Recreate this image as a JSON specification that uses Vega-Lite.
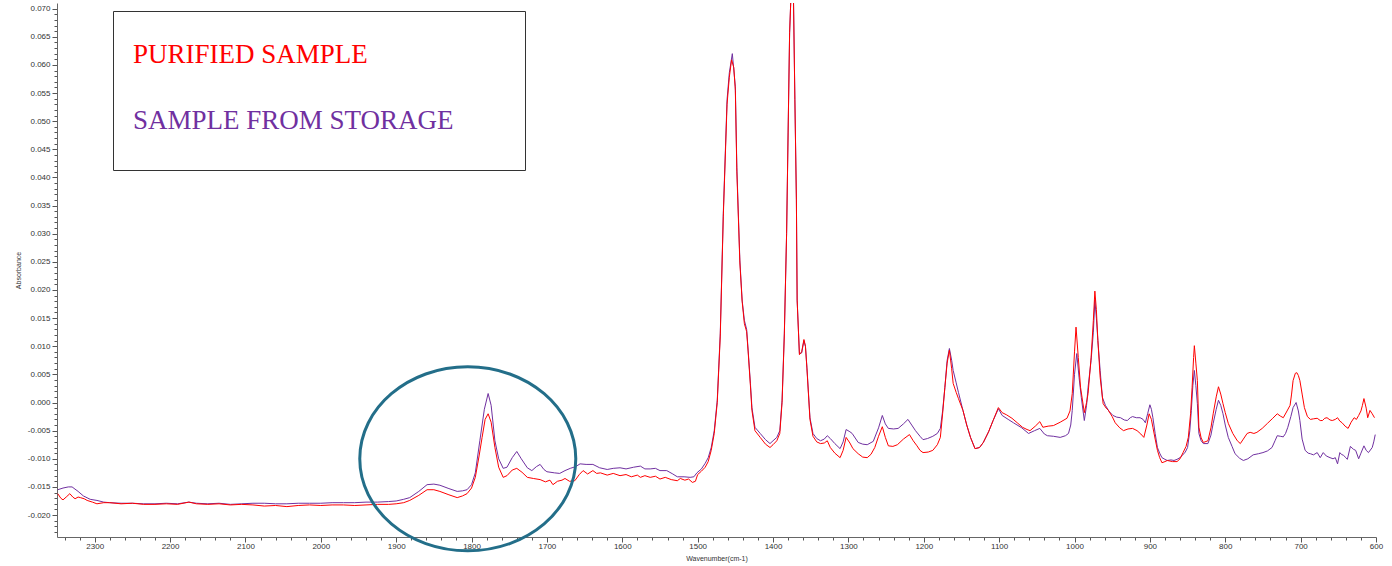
{
  "$schema": "https://vega.github.io/schema/vega-lite/v6.json",
  "width": 1319,
  "height": 534,
  "autosize": {"type": "none"},
  "padding": {"left": 57, "top": 3, "right": 16, "bottom": 29},
  "background": "white",
  "config": {"view": {"stroke": null}, "font": "Liberation Sans"},
  "datasets": {
    "storage": [
      {"wavenumber":2349,"absorbance":-0.0155},{"wavenumber":2342,"absorbance":-0.0152},{"wavenumber":2335,"absorbance":-0.0150},{"wavenumber":2330,"absorbance":-0.0150},{"wavenumber":2322,"absorbance":-0.0158},{"wavenumber":2315,"absorbance":-0.0166},{"wavenumber":2306,"absorbance":-0.0172},{"wavenumber":2297,"absorbance":-0.0174},{"wavenumber":2288,"absorbance":-0.0177},{"wavenumber":2280,"absorbance":-0.0178},
      {"wavenumber":2265,"absorbance":-0.0179},{"wavenumber":2250,"absorbance":-0.0179},{"wavenumber":2235,"absorbance":-0.0180},{"wavenumber":2220,"absorbance":-0.0180},{"wavenumber":2205,"absorbance":-0.0179},{"wavenumber":2190,"absorbance":-0.0180},{"wavenumber":2175,"absorbance":-0.0177},{"wavenumber":2165,"absorbance":-0.0179},{"wavenumber":2150,"absorbance":-0.0180},{"wavenumber":2135,"absorbance":-0.0179},{"wavenumber":2120,"absorbance":-0.0181},{"wavenumber":2105,"absorbance":-0.0180},{"wavenumber":2090,"absorbance":-0.0179},{"wavenumber":2075,"absorbance":-0.0179},{"wavenumber":2060,"absorbance":-0.0180},{"wavenumber":2045,"absorbance":-0.0180},{"wavenumber":2030,"absorbance":-0.0179},{"wavenumber":2015,"absorbance":-0.0179},{"wavenumber":2000,"absorbance":-0.0179},{"wavenumber":1985,"absorbance":-0.0178},{"wavenumber":1970,"absorbance":-0.0178},{"wavenumber":1955,"absorbance":-0.0178},{"wavenumber":1940,"absorbance":-0.0177},{"wavenumber":1925,"absorbance":-0.0177},{"wavenumber":1910,"absorbance":-0.0176},
      {"wavenumber":1900,"absorbance":-0.0175},{"wavenumber":1890,"absorbance":-0.0172},{"wavenumber":1882,"absorbance":-0.0169},{"wavenumber":1870,"absorbance":-0.0158},{"wavenumber":1859,"absorbance":-0.0146},{"wavenumber":1850,"absorbance":-0.0145},{"wavenumber":1842,"absorbance":-0.0147},{"wavenumber":1830,"absorbance":-0.0153},{"wavenumber":1819,"absorbance":-0.0158},{"wavenumber":1812,"absorbance":-0.0157},{"wavenumber":1806,"absorbance":-0.0155},{"wavenumber":1800,"absorbance":-0.0146},{"wavenumber":1795,"absorbance":-0.0125},{"wavenumber":1789,"absorbance":-0.0068},{"wavenumber":1783,"absorbance":-0.0012},{"wavenumber":1778,"absorbance":0.0016},{"wavenumber":1774,"absorbance":-0.0005},{"wavenumber":1769,"absorbance":-0.0068},{"wavenumber":1764,"absorbance":-0.0100},{"wavenumber":1758,"absorbance":-0.0117},{"wavenumber":1753,"absorbance":-0.0115},{"wavenumber":1746,"absorbance":-0.0098},{"wavenumber":1740,"absorbance":-0.0087},{"wavenumber":1734,"absorbance":-0.0100},{"wavenumber":1726,"absorbance":-0.0116},{"wavenumber":1720,"absorbance":-0.0121},{"wavenumber":1714,"absorbance":-0.0114},{"wavenumber":1709,"absorbance":-0.0110},{"wavenumber":1704,"absorbance":-0.0119},{"wavenumber":1700,"absorbance":-0.0123},{"wavenumber":1690,"absorbance":-0.0125},{"wavenumber":1683,"absorbance":-0.0126},{"wavenumber":1676,"absorbance":-0.0121},{"wavenumber":1669,"absorbance":-0.0117},{"wavenumber":1662,"absorbance":-0.0114},{"wavenumber":1656,"absorbance":-0.0109},{"wavenumber":1648,"absorbance":-0.0110},{"wavenumber":1639,"absorbance":-0.0110},{"wavenumber":1630,"absorbance":-0.0116},{"wavenumber":1620,"absorbance":-0.0119},{"wavenumber":1612,"absorbance":-0.0117},{"wavenumber":1603,"absorbance":-0.0116},{"wavenumber":1595,"absorbance":-0.0118},{"wavenumber":1585,"absorbance":-0.0115},{"wavenumber":1576,"absorbance":-0.0113},{"wavenumber":1570,"absorbance":-0.0118},{"wavenumber":1563,"absorbance":-0.0118},{"wavenumber":1556,"absorbance":-0.0117},{"wavenumber":1550,"absorbance":-0.0121},{"wavenumber":1541,"absorbance":-0.0121},{"wavenumber":1533,"absorbance":-0.0127},{"wavenumber":1527,"absorbance":-0.0132},{"wavenumber":1518,"absorbance":-0.0132},{"wavenumber":1510,"absorbance":-0.0133},{"wavenumber":1505,"absorbance":-0.0132},{"wavenumber":1501,"absorbance":-0.0125},{"wavenumber":1495,"absorbance":-0.0118},{"wavenumber":1490,"absorbance":-0.0108},{"wavenumber":1486,"absorbance":-0.0098},{"wavenumber":1482,"absorbance":-0.0080},{"wavenumber":1478,"absorbance":-0.0050},{"wavenumber":1474,"absorbance":0.0004},{"wavenumber":1470,"absorbance":0.0123},{"wavenumber":1466,"absorbance":0.0336},{"wavenumber":1461,"absorbance":0.0538},{"wavenumber":1458,"absorbance":0.0586},{"wavenumber":1454,"absorbance":0.0620},{"wavenumber":1450,"absorbance":0.0561},{"wavenumber":1448,"absorbance":0.0418},{"wavenumber":1444,"absorbance":0.0253},{"wavenumber":1441,"absorbance":0.0182},{"wavenumber":1438,"absorbance":0.0146},{"wavenumber":1435,"absorbance":0.0130},{"wavenumber":1433,"absorbance":0.0093},{"wavenumber":1430,"absorbance":0.0034},{"wavenumber":1428,"absorbance":-0.0009},{"wavenumber":1424,"absorbance":-0.0044},{"wavenumber":1417,"absorbance":-0.0055},{"wavenumber":1410,"absorbance":-0.0066},{"wavenumber":1404,"absorbance":-0.0073},{"wavenumber":1400,"absorbance":-0.0068},{"wavenumber":1395,"absorbance":-0.0062},{"wavenumber":1391,"absorbance":-0.0050},{"wavenumber":1388,"absorbance":0.0004},{"wavenumber":1385,"absorbance":0.0123},{"wavenumber":1382,"absorbance":0.0300},{"wavenumber":1380,"absorbance":0.0479},{"wavenumber":1378,"absorbance":0.0657},{"wavenumber":1376,"absorbance":0.0730},{"wavenumber":1373,"absorbance":0.0730},{"wavenumber":1371,"absorbance":0.0538},{"wavenumber":1369,"absorbance":0.0360},{"wavenumber":1368,"absorbance":0.0182},{"wavenumber":1365,"absorbance":0.0087},{"wavenumber":1362,"absorbance":0.0088},{"wavenumber":1359,"absorbance":0.0110},{"wavenumber":1357,"absorbance":0.0100},{"wavenumber":1355,"absorbance":0.0062},{"wavenumber":1351,"absorbance":-0.0027},{"wavenumber":1347,"absorbance":-0.0055},{"wavenumber":1342,"absorbance":-0.0064},{"wavenumber":1337,"absorbance":-0.0068},{"wavenumber":1332,"absorbance":-0.0065},{"wavenumber":1328,"absorbance":-0.0059},{"wavenumber":1324,"absorbance":-0.0064},{"wavenumber":1318,"absorbance":-0.0073},{"wavenumber":1311,"absorbance":-0.0082},{"wavenumber":1307,"absorbance":-0.0070},{"wavenumber":1303,"absorbance":-0.0048},{"wavenumber":1298,"absorbance":-0.0052},{"wavenumber":1295,"absorbance":-0.0055},{"wavenumber":1287,"absorbance":-0.0071},{"wavenumber":1281,"absorbance":-0.0074},{"wavenumber":1275,"absorbance":-0.0075},{"wavenumber":1267,"absorbance":-0.0069},{"wavenumber":1260,"absorbance":-0.0045},{"wavenumber":1255,"absorbance":-0.0023},{"wavenumber":1251,"absorbance":-0.0038},{"wavenumber":1247,"absorbance":-0.0046},{"wavenumber":1240,"absorbance":-0.0047},{"wavenumber":1234,"absorbance":-0.0046},{"wavenumber":1227,"absorbance":-0.0038},{"wavenumber":1221,"absorbance":-0.0030},{"wavenumber":1216,"absorbance":-0.0040},{"wavenumber":1211,"absorbance":-0.0050},{"wavenumber":1205,"absorbance":-0.0060},{"wavenumber":1201,"absorbance":-0.0066},{"wavenumber":1195,"absorbance":-0.0064},{"wavenumber":1188,"absorbance":-0.0060},{"wavenumber":1182,"absorbance":-0.0055},{"wavenumber":1178,"absorbance":-0.0046},{"wavenumber":1175,"absorbance":-0.0015},{"wavenumber":1172,"absorbance":0.0027},{"wavenumber":1169,"absorbance":0.0075},{"wavenumber":1166,"absorbance":0.0096},{"wavenumber":1163,"absorbance":0.0075},{"wavenumber":1161,"absorbance":0.0057},{"wavenumber":1157,"absorbance":0.0035},{"wavenumber":1154,"absorbance":0.0018},{"wavenumber":1148,"absorbance":-0.0014},{"wavenumber":1143,"absorbance":-0.0040},{"wavenumber":1138,"absorbance":-0.0062},{"wavenumber":1132,"absorbance":-0.0082},{"wavenumber":1126,"absorbance":-0.0080},{"wavenumber":1121,"absorbance":-0.0071},{"wavenumber":1114,"absorbance":-0.0052},{"wavenumber":1108,"absorbance":-0.0032},{"wavenumber":1101,"absorbance":-0.0011},{"wavenumber":1096,"absorbance":-0.0023},{"wavenumber":1088,"absorbance":-0.0030},{"wavenumber":1081,"absorbance":-0.0036},{"wavenumber":1070,"absorbance":-0.0045},{"wavenumber":1061,"absorbance":-0.0055},{"wavenumber":1053,"absorbance":-0.0050},{"wavenumber":1046,"absorbance":-0.0046},{"wavenumber":1040,"absorbance":-0.0056},{"wavenumber":1036,"absorbance":-0.0059},{"wavenumber":1028,"absorbance":-0.0060},{"wavenumber":1019,"absorbance":-0.0062},{"wavenumber":1012,"absorbance":-0.0059},{"wavenumber":1008,"absorbance":-0.0055},{"wavenumber":1005,"absorbance":-0.0040},{"wavenumber":1003,"absorbance":-0.0014},{"wavenumber":1000,"absorbance":0.0050},{"wavenumber":997,"absorbance":0.0087},{"wavenumber":994,"absorbance":0.0045},{"wavenumber":991,"absorbance":0.0009},{"wavenumber":987,"absorbance":-0.0032},{"wavenumber":984,"absorbance":-0.0005},{"wavenumber":982,"absorbance":0.0027},{"wavenumber":978,"absorbance":0.0075},{"wavenumber":975,"absorbance":0.0125},{"wavenumber":973,"absorbance":0.0182},{"wavenumber":971,"absorbance":0.0150},{"wavenumber":969,"absorbance":0.0110},{"wavenumber":966,"absorbance":0.0057},{"wavenumber":963,"absorbance":0.0009},{"wavenumber":959,"absorbance":-0.0005},{"wavenumber":954,"absorbance":-0.0016},{"wavenumber":949,"absorbance":-0.0023},{"wavenumber":944,"absorbance":-0.0026},{"wavenumber":939,"absorbance":-0.0027},{"wavenumber":934,"absorbance":-0.0031},{"wavenumber":930,"absorbance":-0.0032},{"wavenumber":926,"absorbance":-0.0027},{"wavenumber":923,"absorbance":-0.0025},{"wavenumber":918,"absorbance":-0.0027},{"wavenumber":913,"absorbance":-0.0027},{"wavenumber":909,"absorbance":-0.0030},{"wavenumber":906,"absorbance":-0.0036},{"wavenumber":903,"absorbance":-0.0020},{"wavenumber":900,"absorbance":-0.0004},{"wavenumber":898,"absorbance":-0.0012},{"wavenumber":896,"absorbance":-0.0027},{"wavenumber":893,"absorbance":-0.0055},{"wavenumber":890,"absorbance":-0.0080},{"wavenumber":887,"absorbance":-0.0090},{"wavenumber":884,"absorbance":-0.0098},{"wavenumber":880,"absorbance":-0.0101},{"wavenumber":877,"absorbance":-0.0103},{"wavenumber":872,"absorbance":-0.0102},{"wavenumber":868,"absorbance":-0.0103},{"wavenumber":864,"absorbance":-0.0101},{"wavenumber":860,"absorbance":-0.0098},{"wavenumber":857,"absorbance":-0.0094},{"wavenumber":853,"absorbance":-0.0088},{"wavenumber":850,"absorbance":-0.0080},{"wavenumber":847,"absorbance":-0.0050},{"wavenumber":845,"absorbance":-0.0014},{"wavenumber":843,"absorbance":0.0030},{"wavenumber":841,"absorbance":0.0057},{"wavenumber":839,"absorbance":0.0030},{"wavenumber":837,"absorbance":-0.0002},{"wavenumber":835,"absorbance":-0.0055},{"wavenumber":832,"absorbance":-0.0068},{"wavenumber":829,"absorbance":-0.0073},{"wavenumber":823,"absorbance":-0.0073},{"wavenumber":819,"absorbance":-0.0058},{"wavenumber":816,"absorbance":-0.0037},{"wavenumber":812,"absorbance":-0.0012},{"wavenumber":809,"absorbance":0.0004},{"wavenumber":806,"absorbance":-0.0005},{"wavenumber":803,"absorbance":-0.0020},{"wavenumber":800,"absorbance":-0.0040},{"wavenumber":796,"absorbance":-0.0062},{"wavenumber":791,"absorbance":-0.0078},{"wavenumber":787,"absorbance":-0.0091},{"wavenumber":781,"absorbance":-0.0099},{"wavenumber":776,"absorbance":-0.0103},{"wavenumber":770,"absorbance":-0.0100},{"wavenumber":763,"absorbance":-0.0093},{"wavenumber":756,"absorbance":-0.0091},{"wavenumber":750,"absorbance":-0.0089},{"wavenumber":744,"absorbance":-0.0086},{"wavenumber":738,"absorbance":-0.0080},{"wavenumber":734,"absorbance":-0.0068},{"wavenumber":731,"absorbance":-0.0059},{"wavenumber":727,"absorbance":-0.0060},{"wavenumber":723,"absorbance":-0.0061},{"wavenumber":720,"absorbance":-0.0055},{"wavenumber":717,"absorbance":-0.0044},{"wavenumber":713,"absorbance":-0.0025},{"wavenumber":710,"absorbance":-0.0009},{"wavenumber":706,"absorbance":0.0000},{"wavenumber":703,"absorbance":-0.0015},{"wavenumber":701,"absorbance":-0.0032},{"wavenumber":698,"absorbance":-0.0065},{"wavenumber":694,"absorbance":-0.0085},{"wavenumber":690,"absorbance":-0.0090},{"wavenumber":687,"absorbance":-0.0091},{"wavenumber":683,"absorbance":-0.0093},{"wavenumber":678,"absorbance":-0.0089},{"wavenumber":674,"absorbance":-0.0098},{"wavenumber":670,"absorbance":-0.0089},{"wavenumber":666,"absorbance":-0.0095},{"wavenumber":661,"absorbance":-0.0098},{"wavenumber":657,"absorbance":-0.0100},{"wavenumber":654,"absorbance":-0.0098},{"wavenumber":651,"absorbance":-0.0109},{"wavenumber":648,"absorbance":-0.0089},{"wavenumber":646,"absorbance":-0.0092},{"wavenumber":643,"absorbance":-0.0094},{"wavenumber":640,"absorbance":-0.0098},{"wavenumber":638,"absorbance":-0.0101},{"wavenumber":634,"absorbance":-0.0078},{"wavenumber":630,"absorbance":-0.0083},{"wavenumber":627,"absorbance":-0.0085},{"wavenumber":623,"absorbance":-0.0100},{"wavenumber":620,"absorbance":-0.0090},{"wavenumber":616,"absorbance":-0.0077},{"wavenumber":613,"absorbance":-0.0085},{"wavenumber":610,"absorbance":-0.0089},{"wavenumber":605,"absorbance":-0.0080},{"wavenumber":603,"absorbance":-0.0070},{"wavenumber":601,"absorbance":-0.0057}
    ],
    "purified": [
      {"wavenumber":2349,"absorbance":-0.0162},{"wavenumber":2345,"absorbance":-0.0170},{"wavenumber":2342,"absorbance":-0.0173},{"wavenumber":2337,"absorbance":-0.0167},{"wavenumber":2333,"absorbance":-0.0162},{"wavenumber":2329,"absorbance":-0.0168},{"wavenumber":2326,"absorbance":-0.0171},{"wavenumber":2322,"absorbance":-0.0168},{"wavenumber":2319,"absorbance":-0.0169},{"wavenumber":2314,"absorbance":-0.0171},{"wavenumber":2310,"absorbance":-0.0174},{"wavenumber":2303,"absorbance":-0.0177},{"wavenumber":2297,"absorbance":-0.0180},{"wavenumber":2288,"absorbance":-0.0178},{"wavenumber":2280,"absorbance":-0.0178},
      {"wavenumber":2265,"absorbance":-0.0180},{"wavenumber":2250,"absorbance":-0.0179},{"wavenumber":2235,"absorbance":-0.0181},{"wavenumber":2220,"absorbance":-0.0181},{"wavenumber":2205,"absorbance":-0.0180},{"wavenumber":2190,"absorbance":-0.0181},{"wavenumber":2175,"absorbance":-0.0177},{"wavenumber":2165,"absorbance":-0.0180},{"wavenumber":2150,"absorbance":-0.0181},{"wavenumber":2135,"absorbance":-0.0180},{"wavenumber":2120,"absorbance":-0.0182},{"wavenumber":2105,"absorbance":-0.0181},{"wavenumber":2090,"absorbance":-0.0182},{"wavenumber":2075,"absorbance":-0.0184},{"wavenumber":2060,"absorbance":-0.0183},{"wavenumber":2045,"absorbance":-0.0185},{"wavenumber":2030,"absorbance":-0.0183},{"wavenumber":2015,"absorbance":-0.0182},{"wavenumber":2000,"absorbance":-0.0183},{"wavenumber":1985,"absorbance":-0.0182},{"wavenumber":1970,"absorbance":-0.0182},{"wavenumber":1955,"absorbance":-0.0183},{"wavenumber":1940,"absorbance":-0.0182},{"wavenumber":1925,"absorbance":-0.0181},{"wavenumber":1910,"absorbance":-0.0181},
      {"wavenumber":1900,"absorbance":-0.0180},{"wavenumber":1890,"absorbance":-0.0178},{"wavenumber":1882,"absorbance":-0.0174},{"wavenumber":1870,"absorbance":-0.0165},{"wavenumber":1859,"absorbance":-0.0155},{"wavenumber":1850,"absorbance":-0.0155},{"wavenumber":1842,"absorbance":-0.0158},{"wavenumber":1830,"absorbance":-0.0164},{"wavenumber":1819,"absorbance":-0.0169},{"wavenumber":1812,"absorbance":-0.0166},{"wavenumber":1806,"absorbance":-0.0162},{"wavenumber":1800,"absorbance":-0.0152},{"wavenumber":1795,"absorbance":-0.0133},{"wavenumber":1790,"absorbance":-0.0095},{"wavenumber":1786,"absorbance":-0.0062},{"wavenumber":1782,"absorbance":-0.0030},{"wavenumber":1778,"absorbance":-0.0020},{"wavenumber":1774,"absorbance":-0.0035},{"wavenumber":1769,"absorbance":-0.0080},{"wavenumber":1764,"absorbance":-0.0115},{"wavenumber":1758,"absorbance":-0.0133},{"wavenumber":1753,"absorbance":-0.0130},{"wavenumber":1746,"absorbance":-0.0120},{"wavenumber":1740,"absorbance":-0.0117},{"wavenumber":1733,"absorbance":-0.0124},{"wavenumber":1726,"absorbance":-0.0133},{"wavenumber":1718,"absorbance":-0.0135},{"wavenumber":1709,"absorbance":-0.0137},{"wavenumber":1702,"absorbance":-0.0141},{"wavenumber":1696,"absorbance":-0.0138},{"wavenumber":1692,"absorbance":-0.0146},{"wavenumber":1686,"absorbance":-0.0140},{"wavenumber":1680,"absorbance":-0.0138},{"wavenumber":1676,"absorbance":-0.0135},{"wavenumber":1670,"absorbance":-0.0140},{"wavenumber":1663,"absorbance":-0.0139},{"wavenumber":1657,"absorbance":-0.0128},{"wavenumber":1652,"absorbance":-0.0121},{"wavenumber":1646,"absorbance":-0.0127},{"wavenumber":1639,"absorbance":-0.0121},{"wavenumber":1634,"absorbance":-0.0126},{"wavenumber":1629,"absorbance":-0.0125},{"wavenumber":1620,"absorbance":-0.0129},{"wavenumber":1612,"absorbance":-0.0126},{"wavenumber":1603,"absorbance":-0.0130},{"wavenumber":1595,"absorbance":-0.0128},{"wavenumber":1588,"absorbance":-0.0132},{"wavenumber":1580,"absorbance":-0.0129},{"wavenumber":1576,"absorbance":-0.0133},{"wavenumber":1570,"absorbance":-0.0130},{"wavenumber":1563,"absorbance":-0.0133},{"wavenumber":1556,"absorbance":-0.0131},{"wavenumber":1550,"absorbance":-0.0136},{"wavenumber":1543,"absorbance":-0.0133},{"wavenumber":1535,"absorbance":-0.0137},{"wavenumber":1527,"absorbance":-0.0139},{"wavenumber":1523,"absorbance":-0.0135},{"wavenumber":1517,"absorbance":-0.0138},{"wavenumber":1512,"absorbance":-0.0136},{"wavenumber":1507,"absorbance":-0.0142},{"wavenumber":1503,"absorbance":-0.0140},{"wavenumber":1500,"absorbance":-0.0128},{"wavenumber":1495,"absorbance":-0.0122},{"wavenumber":1490,"absorbance":-0.0115},{"wavenumber":1486,"absorbance":-0.0105},{"wavenumber":1482,"absorbance":-0.0085},{"wavenumber":1478,"absorbance":-0.0055},{"wavenumber":1474,"absorbance":0.0000},{"wavenumber":1470,"absorbance":0.0118},{"wavenumber":1466,"absorbance":0.0330},{"wavenumber":1461,"absorbance":0.0530},{"wavenumber":1458,"absorbance":0.0578},{"wavenumber":1455,"absorbance":0.0609},{"wavenumber":1452,"absorbance":0.0595},{"wavenumber":1450,"absorbance":0.0555},{"wavenumber":1448,"absorbance":0.0410},{"wavenumber":1444,"absorbance":0.0248},{"wavenumber":1441,"absorbance":0.0180},{"wavenumber":1438,"absorbance":0.0140},{"wavenumber":1435,"absorbance":0.0126},{"wavenumber":1433,"absorbance":0.0090},{"wavenumber":1430,"absorbance":0.0030},{"wavenumber":1428,"absorbance":-0.0014},{"wavenumber":1424,"absorbance":-0.0050},{"wavenumber":1417,"absorbance":-0.0062},{"wavenumber":1410,"absorbance":-0.0074},{"wavenumber":1404,"absorbance":-0.0080},{"wavenumber":1400,"absorbance":-0.0075},{"wavenumber":1395,"absorbance":-0.0068},{"wavenumber":1391,"absorbance":-0.0055},{"wavenumber":1388,"absorbance":0.0000},{"wavenumber":1385,"absorbance":0.0120},{"wavenumber":1382,"absorbance":0.0300},{"wavenumber":1380,"absorbance":0.0479},{"wavenumber":1378,"absorbance":0.0657},{"wavenumber":1376,"absorbance":0.0730},{"wavenumber":1373,"absorbance":0.0730},{"wavenumber":1371,"absorbance":0.0538},{"wavenumber":1369,"absorbance":0.0360},{"wavenumber":1368,"absorbance":0.0182},{"wavenumber":1365,"absorbance":0.0085},{"wavenumber":1362,"absorbance":0.0090},{"wavenumber":1359,"absorbance":0.0112},{"wavenumber":1357,"absorbance":0.0100},{"wavenumber":1355,"absorbance":0.0060},{"wavenumber":1351,"absorbance":-0.0030},{"wavenumber":1347,"absorbance":-0.0060},{"wavenumber":1342,"absorbance":-0.0070},{"wavenumber":1337,"absorbance":-0.0073},{"wavenumber":1332,"absorbance":-0.0072},{"wavenumber":1328,"absorbance":-0.0068},{"wavenumber":1324,"absorbance":-0.0080},{"wavenumber":1318,"absorbance":-0.0090},{"wavenumber":1311,"absorbance":-0.0098},{"wavenumber":1307,"absorbance":-0.0085},{"wavenumber":1303,"absorbance":-0.0062},{"wavenumber":1298,"absorbance":-0.0072},{"wavenumber":1294,"absorbance":-0.0082},{"wavenumber":1287,"absorbance":-0.0091},{"wavenumber":1281,"absorbance":-0.0097},{"wavenumber":1275,"absorbance":-0.0098},{"wavenumber":1270,"absorbance":-0.0092},{"wavenumber":1265,"absorbance":-0.0080},{"wavenumber":1260,"absorbance":-0.0060},{"wavenumber":1255,"absorbance":-0.0043},{"wavenumber":1251,"absorbance":-0.0062},{"wavenumber":1247,"absorbance":-0.0077},{"wavenumber":1241,"absorbance":-0.0078},{"wavenumber":1235,"absorbance":-0.0075},{"wavenumber":1227,"absorbance":-0.0065},{"wavenumber":1219,"absorbance":-0.0057},{"wavenumber":1214,"absorbance":-0.0068},{"wavenumber":1209,"absorbance":-0.0077},{"wavenumber":1205,"absorbance":-0.0085},{"wavenumber":1201,"absorbance":-0.0089},{"wavenumber":1194,"absorbance":-0.0088},{"wavenumber":1188,"absorbance":-0.0085},{"wavenumber":1182,"absorbance":-0.0075},{"wavenumber":1178,"absorbance":-0.0062},{"wavenumber":1175,"absorbance":-0.0020},{"wavenumber":1172,"absorbance":0.0027},{"wavenumber":1169,"absorbance":0.0070},{"wavenumber":1166,"absorbance":0.0093},{"wavenumber":1163,"absorbance":0.0060},{"wavenumber":1161,"absorbance":0.0034},{"wavenumber":1157,"absorbance":0.0018},{"wavenumber":1154,"absorbance":0.0007},{"wavenumber":1148,"absorbance":-0.0014},{"wavenumber":1143,"absorbance":-0.0040},{"wavenumber":1138,"absorbance":-0.0062},{"wavenumber":1132,"absorbance":-0.0082},{"wavenumber":1126,"absorbance":-0.0080},{"wavenumber":1121,"absorbance":-0.0071},{"wavenumber":1114,"absorbance":-0.0052},{"wavenumber":1108,"absorbance":-0.0032},{"wavenumber":1101,"absorbance":-0.0009},{"wavenumber":1096,"absorbance":-0.0018},{"wavenumber":1090,"absorbance":-0.0022},{"wavenumber":1083,"absorbance":-0.0028},{"wavenumber":1076,"absorbance":-0.0036},{"wavenumber":1069,"absorbance":-0.0044},{"wavenumber":1063,"absorbance":-0.0048},{"wavenumber":1059,"absorbance":-0.0050},{"wavenumber":1052,"absorbance":-0.0042},{"wavenumber":1046,"absorbance":-0.0034},{"wavenumber":1042,"absorbance":-0.0044},{"wavenumber":1035,"absorbance":-0.0042},{"wavenumber":1028,"absorbance":-0.0041},{"wavenumber":1019,"absorbance":-0.0035},{"wavenumber":1010,"absorbance":-0.0028},{"wavenumber":1006,"absorbance":-0.0015},{"wavenumber":1003,"absorbance":0.0016},{"wavenumber":1000,"absorbance":0.0090},{"wavenumber":998,"absorbance":0.0134},{"wavenumber":995,"absorbance":0.0080},{"wavenumber":992,"absorbance":0.0027},{"wavenumber":987,"absorbance":-0.0018},{"wavenumber":984,"absorbance":0.0000},{"wavenumber":982,"absorbance":0.0016},{"wavenumber":978,"absorbance":0.0080},{"wavenumber":975,"absorbance":0.0146},{"wavenumber":973,"absorbance":0.0198},{"wavenumber":971,"absorbance":0.0165},{"wavenumber":969,"absorbance":0.0110},{"wavenumber":966,"absorbance":0.0045},{"wavenumber":962,"absorbance":-0.0002},{"wavenumber":958,"absorbance":-0.0010},{"wavenumber":955,"absorbance":-0.0014},{"wavenumber":950,"absorbance":-0.0025},{"wavenumber":946,"absorbance":-0.0036},{"wavenumber":940,"absorbance":-0.0045},{"wavenumber":935,"absorbance":-0.0050},{"wavenumber":929,"absorbance":-0.0047},{"wavenumber":923,"absorbance":-0.0046},{"wavenumber":917,"absorbance":-0.0050},{"wavenumber":912,"absorbance":-0.0056},{"wavenumber":908,"absorbance":-0.0062},{"wavenumber":904,"absorbance":-0.0040},{"wavenumber":901,"absorbance":-0.0020},{"wavenumber":898,"absorbance":-0.0030},{"wavenumber":896,"absorbance":-0.0044},{"wavenumber":893,"absorbance":-0.0065},{"wavenumber":890,"absorbance":-0.0085},{"wavenumber":887,"absorbance":-0.0098},{"wavenumber":884,"absorbance":-0.0107},{"wavenumber":880,"absorbance":-0.0105},{"wavenumber":877,"absorbance":-0.0103},{"wavenumber":870,"absorbance":-0.0105},{"wavenumber":864,"absorbance":-0.0105},{"wavenumber":860,"absorbance":-0.0100},{"wavenumber":856,"absorbance":-0.0089},{"wavenumber":852,"absorbance":-0.0078},{"wavenumber":849,"absorbance":-0.0062},{"wavenumber":846,"absorbance":-0.0020},{"wavenumber":844,"absorbance":0.0027},{"wavenumber":842,"absorbance":0.0080},{"wavenumber":841,"absorbance":0.0101},{"wavenumber":839,"absorbance":0.0070},{"wavenumber":837,"absorbance":0.0039},{"wavenumber":835,"absorbance":-0.0044},{"wavenumber":832,"absorbance":-0.0063},{"wavenumber":829,"absorbance":-0.0071},{"wavenumber":823,"absorbance":-0.0068},{"wavenumber":819,"absorbance":-0.0045},{"wavenumber":816,"absorbance":-0.0020},{"wavenumber":812,"absorbance":0.0010},{"wavenumber":809,"absorbance":0.0028},{"wavenumber":806,"absorbance":0.0015},{"wavenumber":803,"absorbance":-0.0002},{"wavenumber":800,"absorbance":-0.0018},{"wavenumber":796,"absorbance":-0.0037},{"wavenumber":790,"absorbance":-0.0055},{"wavenumber":784,"absorbance":-0.0068},{"wavenumber":780,"absorbance":-0.0073},{"wavenumber":776,"absorbance":-0.0065},{"wavenumber":771,"absorbance":-0.0055},{"wavenumber":767,"absorbance":-0.0053},{"wavenumber":762,"absorbance":-0.0055},{"wavenumber":758,"absorbance":-0.0053},{"wavenumber":751,"absorbance":-0.0046},{"wavenumber":744,"absorbance":-0.0037},{"wavenumber":737,"absorbance":-0.0028},{"wavenumber":731,"absorbance":-0.0020},{"wavenumber":727,"absorbance":-0.0024},{"wavenumber":723,"absorbance":-0.0027},{"wavenumber":718,"absorbance":-0.0015},{"wavenumber":714,"absorbance":-0.0005},{"wavenumber":712,"absorbance":0.0015},{"wavenumber":710,"absorbance":0.0039},{"wavenumber":707,"absorbance":0.0052},{"wavenumber":705,"absorbance":0.0053},{"wavenumber":703,"absorbance":0.0048},{"wavenumber":701,"absorbance":0.0039},{"wavenumber":698,"absorbance":0.0015},{"wavenumber":695,"absorbance":-0.0009},{"wavenumber":691,"absorbance":-0.0025},{"wavenumber":687,"absorbance":-0.0030},{"wavenumber":683,"absorbance":-0.0029},{"wavenumber":678,"absorbance":-0.0028},{"wavenumber":674,"absorbance":-0.0032},{"wavenumber":671,"absorbance":-0.0032},{"wavenumber":668,"absorbance":-0.0028},{"wavenumber":665,"absorbance":-0.0027},{"wavenumber":661,"absorbance":-0.0031},{"wavenumber":658,"absorbance":-0.0032},{"wavenumber":654,"absorbance":-0.0030},{"wavenumber":651,"absorbance":-0.0027},{"wavenumber":648,"absorbance":-0.0033},{"wavenumber":645,"absorbance":-0.0036},{"wavenumber":641,"absorbance":-0.0042},{"wavenumber":637,"absorbance":-0.0046},{"wavenumber":633,"absorbance":-0.0035},{"wavenumber":629,"absorbance":-0.0027},{"wavenumber":626,"absorbance":-0.0030},{"wavenumber":623,"absorbance":-0.0023},{"wavenumber":620,"absorbance":-0.0015},{"wavenumber":618,"absorbance":-0.0005},{"wavenumber":616,"absorbance":0.0007},{"wavenumber":613,"absorbance":-0.0010},{"wavenumber":611,"absorbance":-0.0027},{"wavenumber":608,"absorbance":-0.0014},{"wavenumber":605,"absorbance":-0.0020},{"wavenumber":602,"absorbance":-0.0027}
    ],
    "highlight": [{"wavenumber": 1805, "absorbance": -0.0100}]
  },
  "layer": [
    {
      "data": {"name": "storage"},
      "mark": {"type": "line", "strokeWidth": 1, "clip": true},
      "encoding": {
        "x": {
          "field": "wavenumber", "type": "quantitative",
          "scale": {"domain": [600, 2350], "reverse": true, "nice": false, "zero": false},
          "axis": {
            "title": "Wavenumber(cm-1)",
            "values": [2340,2320,2300,2280,2260,2240,2220,2200,2180,2160,2140,2120,2100,2080,2060,2040,2020,2000,1980,1960,1940,1920,1900,1880,1860,1840,1820,1800,1780,1760,1740,1720,1700,1680,1660,1640,1620,1600,1580,1560,1540,1520,1500,1480,1460,1440,1420,1400,1380,1360,1340,1320,1300,1280,1260,1240,1220,1200,1180,1160,1140,1120,1100,1080,1060,1040,1020,1000,980,960,940,920,900,880,860,840,820,800,780,760,740,720,700,680,660,640,620,600],
            "tickCount": 500,
            "labelExpr": "datum.value % 100 === 0 ? format(datum.value, 'd') : ''",
            "labelOverlap": false,
            "labelFlush": false,
            "labelFont": "Liberation Sans",
            "labelFontSize": 8,
            "labelColor": "#333333",
            "labelPadding": 0,
            "tickColor": "#555555",
            "domainColor": "#666666",
            "tickSize": {"condition": {"test": "datum.value % 100 === 0", "value": 5}, "value": 3},
            "titleFont": "Liberation Sans",
            "titleFontSize": 7,
            "titleFontWeight": "normal",
            "titleColor": "#333333",
            "titlePadding": 4,
            "grid": false
          }
        },
        "y": {
          "field": "absorbance", "type": "quantitative",
          "scale": {"domain": [-0.0239, 0.071], "nice": false, "zero": false},
          "axis": {
            "title": "Absorbance",
            "values": [-0.023,-0.022,-0.021,-0.02,-0.019,-0.018,-0.017,-0.016,-0.015,-0.014,-0.013,-0.012,-0.011,-0.01,-0.009,-0.008,-0.007,-0.006,-0.005,-0.004,-0.003,-0.002,-0.001,0,0.001,0.002,0.003,0.004,0.005,0.006,0.007,0.008,0.009,0.01,0.011,0.012,0.013,0.014,0.015,0.016,0.017,0.018,0.019,0.02,0.021,0.022,0.023,0.024,0.025,0.026,0.027,0.028,0.029,0.03,0.031,0.032,0.033,0.034,0.035,0.036,0.037,0.038,0.039,0.04,0.041,0.042,0.043,0.044,0.045,0.046,0.047,0.048,0.049,0.05,0.051,0.052,0.053,0.054,0.055,0.056,0.057,0.058,0.059,0.06,0.061,0.062,0.063,0.064,0.065,0.066,0.067,0.068,0.069,0.07],
            "tickCount": 500,
            "labelExpr": "abs(round(datum.value * 1000)) % 5 === 0 ? (datum.value < -0.0001 ? '-' : '') + format(abs(datum.value), '.3f') : ''",
            "labelOverlap": false,
            "labelFont": "Liberation Sans",
            "labelFontSize": 8,
            "labelColor": "#333333",
            "labelPadding": 2,
            "tickColor": "#555555",
            "domainColor": "#666666",
            "tickSize": {"condition": {"test": "abs(round(datum.value * 1000)) % 5 === 0", "value": 5}, "value": 3},
            "titleFont": "Liberation Sans",
            "titleFontSize": 7,
            "titleFontWeight": "normal",
            "titleColor": "#333333",
            "titlePadding": 6,
            "grid": false
          }
        },
        "color": {
          "datum": "SAMPLE FROM STORAGE",
          "type": "nominal",
          "scale": {"domain": ["PURIFIED SAMPLE", "SAMPLE FROM STORAGE"], "range": ["#FF0000", "#7030A0"]},
          "legend": {
            "orient": "none",
            "legendX": 56,
            "legendY": 8,
            "title": " ",
            "titleOrient": "right",
            "titlePadding": 51,
            "titleFontSize": 1,
            "padding": 20,
            "strokeColor": "#333333",
            "fillColor": "white",
            "labelFont": "Liberation Serif",
            "labelFontSize": 27,
            "labelLimit": 600,
            "symbolType": "circle",
            "symbolSize": 2809,
            "symbolOpacity": 0,
            "symbolStrokeWidth": 0,
            "labelOffset": -53,
            "rowPadding": 13,
            "encode": {
              "labels": {"update": {"fill": {"signal": "datum.value === 'PURIFIED SAMPLE' ? '#FF0000' : '#7030A0'"}, "dy": {"value": -3}}}
            }
          }
        }
      }
    },
    {
      "data": {"name": "purified"},
      "mark": {"type": "line", "strokeWidth": 1, "clip": true},
      "encoding": {
        "x": {"field": "wavenumber", "type": "quantitative"},
        "y": {"field": "absorbance", "type": "quantitative"},
        "color": {"datum": "PURIFIED SAMPLE", "type": "nominal"}
      }
    },
    {
      "data": {"name": "highlight"},
      "mark": {
        "type": "point",
        "shape": "M -1.174 0 A 1.174 1 0 1 1 1.174 0 A 1.174 1 0 1 1 -1.174 0 Z",
        "size": 33856,
        "filled": false,
        "stroke": "#236E89",
        "strokeWidth": 3,
        "opacity": 1
      },
      "encoding": {
        "x": {"field": "wavenumber", "type": "quantitative"},
        "y": {"field": "absorbance", "type": "quantitative"}
      }
    }
  ]
}
